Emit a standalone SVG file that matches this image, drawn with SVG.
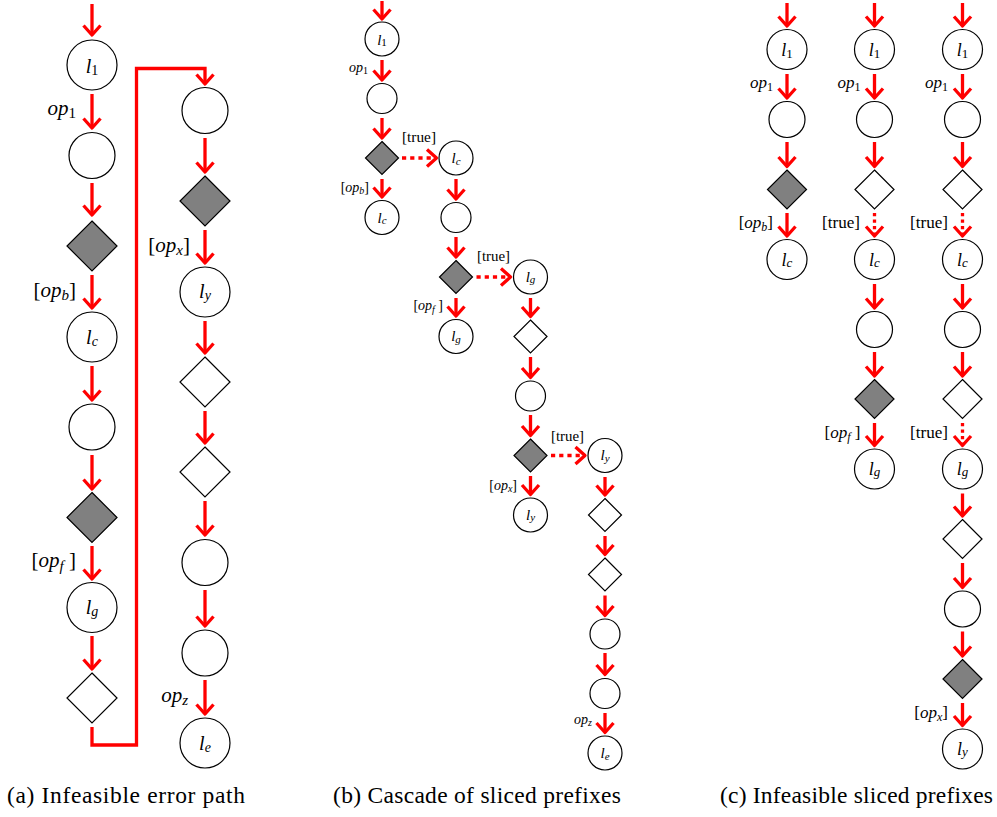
<svg xmlns="http://www.w3.org/2000/svg" width="997" height="817" viewBox="0 0 997 817">
<defs>
<style>
.n{fill:#fff;stroke:#000;stroke-width:1.2}
.g{fill:#808080;stroke:#000;stroke-width:1.2}
.e{fill:none;stroke:#f00;stroke-width:3.3;stroke-linejoin:miter;marker-end:url(#ah)}
.db{stroke-dasharray:4.2 4}
.dc{stroke-dasharray:3.2 3.3}
text{font-family:"Liberation Serif","Times New Roman",serif;fill:#000}
.i{font-style:italic}
.na{font-size:20px}.sna{font-size:14px}
.ea{font-size:21px}.sea{font-size:15px}
.nb{font-size:15px}.snb{font-size:11px}
.eb{font-size:14px}.seb{font-size:10px}
.nc{font-size:18px}.snc{font-size:13px}
.ec{font-size:17px}.sec{font-size:12px}
.cap{font-size:23.5px}
</style>
<marker id="ah" markerUnits="userSpaceOnUse" viewBox="-12 -12 24 24" markerWidth="24" markerHeight="24" refX="0" refY="0" orient="auto" overflow="visible">
<path d="M-9.5,-8.5 L0,0 L-9.5,8.5" fill="none" stroke="#f00" stroke-width="3.3" stroke-linejoin="round"/>
</marker>
</defs>

<g id="connectors">
<path class="e" d="M92,4 V35"/>
<path class="e" d="M92,94 V128"/>
<path class="e" d="M92,183 V215"/>
<path class="e" d="M92,275 V308"/>
<path class="e" d="M92,366 V400"/>
<path class="e" d="M92,455 V489"/>
<path class="e" d="M92,546 V579"/>
<path class="e" d="M92,636 V669"/>
<path class="e" d="M92,727 V745 H136.5 V68.5 H205 V84"/>
<path class="e" d="M205,138 V172"/>
<path class="e" d="M205,230 V263"/>
<path class="e" d="M205,321 V353"/>
<path class="e" d="M205,411 V443"/>
<path class="e" d="M205,501 V535"/>
<path class="e" d="M205,590 V626"/>
<path class="e" d="M205,680 V714"/>
<path class="e" d="M382,1 V19"/>
<path class="e" d="M382,60 V80"/>
<path class="e" d="M382,118 V138"/>
<path class="e" d="M382,179 V197"/>
<path class="e db" d="M402,158 H436.5"/>
<path class="e" d="M456,179 V199"/>
<path class="e" d="M456,237 V257"/>
<path class="e" d="M456,298 V316"/>
<path class="e db" d="M476.5,277 H510.5"/>
<path class="e" d="M530.5,298 V316.5"/>
<path class="e" d="M530.5,357 V377.5"/>
<path class="e" d="M530.5,415 V435.5"/>
<path class="e" d="M530.5,476 V494.5"/>
<path class="e db" d="M551,455.5 H585"/>
<path class="e" d="M605,477 V495"/>
<path class="e" d="M605,536 V554.5"/>
<path class="e" d="M605,595.5 V615.5"/>
<path class="e" d="M605,653 V674.5"/>
<path class="e" d="M605,713 V732.5"/>
<path class="e" d="M787,3 V26"/>
<path class="e" d="M787,74 V98"/>
<path class="e" d="M787,142 V166.5"/>
<path class="e" d="M787,213 V236"/>
<path class="e" d="M874.5,3 V26"/>
<path class="e" d="M874.5,74 V98"/>
<path class="e" d="M874.5,142 V166.5"/>
<path class="e dc" d="M874.5,213 V236"/>
<path class="e" d="M874.5,284 V308"/>
<path class="e" d="M874.5,352 V376"/>
<path class="e" d="M874.5,423 V445.5"/>
<path class="e" d="M962.5,3 V26"/>
<path class="e" d="M962.5,74 V98"/>
<path class="e" d="M962.5,142 V166.5"/>
<path class="e dc" d="M962.5,213 V236"/>
<path class="e" d="M962.5,284 V308"/>
<path class="e" d="M962.5,352 V376"/>
<path class="e dc" d="M962.5,423 V445.5"/>
<path class="e" d="M962.5,493.5 V516"/>
<path class="e" d="M962.5,563 V587.5"/>
<path class="e" d="M962.5,631.5 V656"/>
<path class="e" d="M962.5,703 V725.5"/>
</g>

<g id="edge-labels">
<text class="ea" x="76" y="115" text-anchor="end"><tspan class="i">op</tspan><tspan class="sea" dy="3">1</tspan></text>
<text class="ea" x="76" y="297" text-anchor="end">[<tspan class="i">op</tspan><tspan class="i sea" dy="3">b</tspan><tspan dy="-3">]</tspan></text>
<text class="ea" x="76" y="567" text-anchor="end">[<tspan class="i">op</tspan><tspan class="i sea" dy="4">f</tspan><tspan dy="-4"> ]</tspan></text>
<text class="ea" x="190" y="252" text-anchor="end">[<tspan class="i">op</tspan><tspan class="i sea" dy="3">x</tspan><tspan dy="-3">]</tspan></text>
<text class="ea" x="188" y="702" text-anchor="end"><tspan class="i">op</tspan><tspan class="i sea" dy="3">z</tspan></text>
<text class="eb" x="368" y="72" text-anchor="end"><tspan class="i">op</tspan><tspan class="seb" dy="2">1</tspan></text>
<text class="eb" x="369" y="192" text-anchor="end">[<tspan class="i">op</tspan><tspan class="i seb" dy="2">b</tspan><tspan dy="-2">]</tspan></text>
<text class="eb" x="443" y="310" text-anchor="end">[<tspan class="i">op</tspan><tspan class="i seb" dy="3">f</tspan><tspan dy="-3"> ]</tspan></text>
<text class="eb" x="517" y="490" text-anchor="end">[<tspan class="i">op</tspan><tspan class="i seb" dy="2">x</tspan><tspan dy="-2">]</tspan></text>
<text class="eb" x="592" y="724" text-anchor="end"><tspan class="i">op</tspan><tspan class="i seb" dy="2">z</tspan></text>
<text class="eb" x="402" y="142" textLength="34" lengthAdjust="spacingAndGlyphs">[true]</text>
<text class="eb" x="477" y="261" textLength="33" lengthAdjust="spacingAndGlyphs">[true]</text>
<text class="eb" x="551" y="441" textLength="33" lengthAdjust="spacingAndGlyphs">[true]</text>
<text class="ec" x="773" y="88" text-anchor="end"><tspan class="i">op</tspan><tspan class="sec" dy="2.5">1</tspan></text>
<text class="ec" x="860.5" y="88" text-anchor="end"><tspan class="i">op</tspan><tspan class="sec" dy="2.5">1</tspan></text>
<text class="ec" x="948" y="88" text-anchor="end"><tspan class="i">op</tspan><tspan class="sec" dy="2.5">1</tspan></text>
<text class="ec" x="773" y="228" text-anchor="end">[<tspan class="i">op</tspan><tspan class="i sec" dy="2.5">b</tspan><tspan dy="-2.5">]</tspan></text>
<text class="ec" x="822" y="228" textLength="38" lengthAdjust="spacingAndGlyphs">[true]</text>
<text class="ec" x="910" y="228" textLength="38" lengthAdjust="spacingAndGlyphs">[true]</text>
<text class="ec" x="860.5" y="438" text-anchor="end">[<tspan class="i">op</tspan><tspan class="i sec" dy="3">f</tspan><tspan dy="-3"> ]</tspan></text>
<text class="ec" x="910" y="438" textLength="38" lengthAdjust="spacingAndGlyphs">[true]</text>
<text class="ec" x="948" y="718" text-anchor="end">[<tspan class="i">op</tspan><tspan class="i sec" dy="2.5">x</tspan><tspan dy="-2.5">]</tspan></text>
</g>

<g id="a1"><circle class="n" cx="92" cy="65" r="25"/><text class="na" x="92" y="72.5" text-anchor="middle"><tspan class="i">l</tspan><tspan class="sna" dy="2">1</tspan></text></g>
<g id="a2"><circle class="n" cx="92" cy="155.5" r="23"/></g>
<g id="a3"><polygon class="g" points="92,221 117,246 92,271 67,246"/></g>
<g id="a4"><circle class="n" cx="92" cy="337" r="25"/><text class="na" x="92" y="344" text-anchor="middle"><tspan class="i">l</tspan><tspan class="i sna" dy="2">c</tspan></text></g>
<g id="a5"><circle class="n" cx="92" cy="427" r="23"/></g>
<g id="a6"><polygon class="g" points="92,492.5 117,517.5 92,542.5 67,517.5"/></g>
<g id="a7"><circle class="n" cx="92" cy="607.5" r="25"/><text class="na" x="92" y="613.5" text-anchor="middle"><tspan class="i">l</tspan><tspan class="i sna" dy="2">g</tspan></text></g>
<g id="a8"><polygon class="n" points="92,673 117,698 92,723 67,698"/></g>
<g id="a9"><circle class="n" cx="205" cy="110.5" r="23"/></g>
<g id="a10"><polygon class="g" points="205,176 230,201 205,226 180,201"/></g>
<g id="a11"><circle class="n" cx="205" cy="292" r="25"/><text class="na" x="205" y="298" text-anchor="middle"><tspan class="i">l</tspan><tspan class="i sna" dy="2">y</tspan></text></g>
<g id="a12"><polygon class="n" points="205,357 230,382 205,407 180,382"/></g>
<g id="a13"><polygon class="n" points="205,447 230,472 205,497 180,472"/></g>
<g id="a14"><circle class="n" cx="205" cy="562.5" r="23"/></g>
<g id="a15"><circle class="n" cx="205" cy="653" r="23"/></g>
<g id="a16"><circle class="n" cx="205" cy="743" r="25"/><text class="na" x="205" y="750" text-anchor="middle"><tspan class="i">l</tspan><tspan class="i sna" dy="2">e</tspan></text></g>

<g id="b1"><circle class="n" cx="382" cy="39" r="17"/><text class="nb" x="382" y="44.5" text-anchor="middle"><tspan class="i">l</tspan><tspan class="snb" dy="1.5">1</tspan></text></g>
<g id="b2"><circle class="n" cx="382" cy="98.5" r="15"/></g>
<g id="b3"><polygon class="g" points="382,141.5 398.5,158 382,174.5 365.5,158"/></g>
<g id="b4"><circle class="n" cx="382" cy="217.5" r="17"/><text class="nb" x="382" y="222.5" text-anchor="middle"><tspan class="i">l</tspan><tspan class="i snb" dy="1.5">c</tspan></text></g>
<g id="b5"><circle class="n" cx="456" cy="158" r="17"/><text class="nb" x="456" y="163" text-anchor="middle"><tspan class="i">l</tspan><tspan class="i snb" dy="1.5">c</tspan></text></g>
<g id="b6"><circle class="n" cx="456" cy="217.5" r="15"/></g>
<g id="b7"><polygon class="g" points="456,260.5 472.5,277 456,293.5 439.5,277"/></g>
<g id="b8"><circle class="n" cx="456" cy="336.5" r="17"/><text class="nb" x="456" y="341" text-anchor="middle"><tspan class="i">l</tspan><tspan class="i snb" dy="1.5">g</tspan></text></g>
<g id="b9"><circle class="n" cx="530.5" cy="277" r="17"/><text class="nb" x="530.5" y="281.5" text-anchor="middle"><tspan class="i">l</tspan><tspan class="i snb" dy="1.5">g</tspan></text></g>
<g id="b10"><polygon class="n" points="530.5,320 547,336.5 530.5,353 514,336.5"/></g>
<g id="b11"><circle class="n" cx="530.5" cy="396" r="15"/></g>
<g id="b12"><polygon class="g" points="530.5,439 547,455.5 530.5,472 514,455.5"/></g>
<g id="b13"><circle class="n" cx="530.5" cy="515" r="17"/><text class="nb" x="530.5" y="519.5" text-anchor="middle"><tspan class="i">l</tspan><tspan class="i snb" dy="1.5">y</tspan></text></g>
<g id="b14"><circle class="n" cx="605" cy="455.5" r="17"/><text class="nb" x="605" y="460" text-anchor="middle"><tspan class="i">l</tspan><tspan class="i snb" dy="1.5">y</tspan></text></g>
<g id="b15"><polygon class="n" points="605,498.5 621.5,515 605,531.5 588.5,515"/></g>
<g id="b16"><polygon class="n" points="605,558 621.5,574.5 605,591 588.5,574.5"/></g>
<g id="b17"><circle class="n" cx="605" cy="634" r="15"/></g>
<g id="b18"><circle class="n" cx="605" cy="693.5" r="15"/></g>
<g id="b19"><circle class="n" cx="605" cy="753" r="17"/><text class="nb" x="605" y="758" text-anchor="middle"><tspan class="i">l</tspan><tspan class="i snb" dy="1.5">e</tspan></text></g>

<g id="c1"><circle class="n" cx="787" cy="49.5" r="20"/><text class="nc" x="787" y="56" text-anchor="middle"><tspan class="i">l</tspan><tspan class="snc" dy="1.5">1</tspan></text></g>
<g id="c2"><circle class="n" cx="787" cy="119.5" r="18"/></g>
<g id="c3"><polygon class="g" points="787,170 806.5,189.5 787,209 767.5,189.5"/></g>
<g id="c4"><circle class="n" cx="787" cy="259.5" r="20"/><text class="nc" x="787" y="265.5" text-anchor="middle"><tspan class="i">l</tspan><tspan class="i snc" dy="1.5">c</tspan></text></g>
<g id="c5"><circle class="n" cx="874.5" cy="49.5" r="20"/><text class="nc" x="874.5" y="56" text-anchor="middle"><tspan class="i">l</tspan><tspan class="snc" dy="1.5">1</tspan></text></g>
<g id="c6"><circle class="n" cx="874.5" cy="119.5" r="18"/></g>
<g id="c7"><polygon class="n" points="874.5,170 894,189.5 874.5,209 855,189.5"/></g>
<g id="c8"><circle class="n" cx="874.5" cy="259.5" r="20"/><text class="nc" x="874.5" y="265.5" text-anchor="middle"><tspan class="i">l</tspan><tspan class="i snc" dy="1.5">c</tspan></text></g>
<g id="c9"><circle class="n" cx="874.5" cy="329.5" r="18"/></g>
<g id="c10"><polygon class="g" points="874.5,379.5 894,399 874.5,418.5 855,399"/></g>
<g id="c11"><circle class="n" cx="874.5" cy="469" r="20"/><text class="nc" x="874.5" y="474.5" text-anchor="middle"><tspan class="i">l</tspan><tspan class="i snc" dy="1.5">g</tspan></text></g>
<g id="c12"><circle class="n" cx="962.5" cy="49.5" r="20"/><text class="nc" x="962.5" y="56" text-anchor="middle"><tspan class="i">l</tspan><tspan class="snc" dy="1.5">1</tspan></text></g>
<g id="c13"><circle class="n" cx="962.5" cy="119.5" r="18"/></g>
<g id="c14"><polygon class="n" points="962.5,170 982,189.5 962.5,209 943,189.5"/></g>
<g id="c15"><circle class="n" cx="962.5" cy="259.5" r="20"/><text class="nc" x="962.5" y="265.5" text-anchor="middle"><tspan class="i">l</tspan><tspan class="i snc" dy="1.5">c</tspan></text></g>
<g id="c16"><circle class="n" cx="962.5" cy="329.5" r="18"/></g>
<g id="c17"><polygon class="n" points="962.5,379.5 982,399 962.5,418.5 943,399"/></g>
<g id="c18"><circle class="n" cx="962.5" cy="469" r="20"/><text class="nc" x="962.5" y="474.5" text-anchor="middle"><tspan class="i">l</tspan><tspan class="i snc" dy="1.5">g</tspan></text></g>
<g id="c19"><polygon class="n" points="962.5,519.5 982,539 962.5,558.5 943,539"/></g>
<g id="c20"><circle class="n" cx="962.5" cy="609" r="18"/></g>
<g id="c21"><polygon class="g" points="962.5,659.5 982,679 962.5,698.5 943,679"/></g>
<g id="c22"><circle class="n" cx="962.5" cy="749" r="20"/><text class="nc" x="962.5" y="754.5" text-anchor="middle"><tspan class="i">l</tspan><tspan class="i snc" dy="1.5">y</tspan></text></g>

<g id="captions">
<text class="cap" x="7" y="803" textLength="238" lengthAdjust="spacing">(a) Infeasible error path</text>
<text class="cap" x="333" y="803" textLength="288" lengthAdjust="spacing">(b) Cascade of sliced prefixes</text>
<text class="cap" x="720" y="803" textLength="273" lengthAdjust="spacing">(c) Infeasible sliced prefixes</text>
</g>
</svg>
